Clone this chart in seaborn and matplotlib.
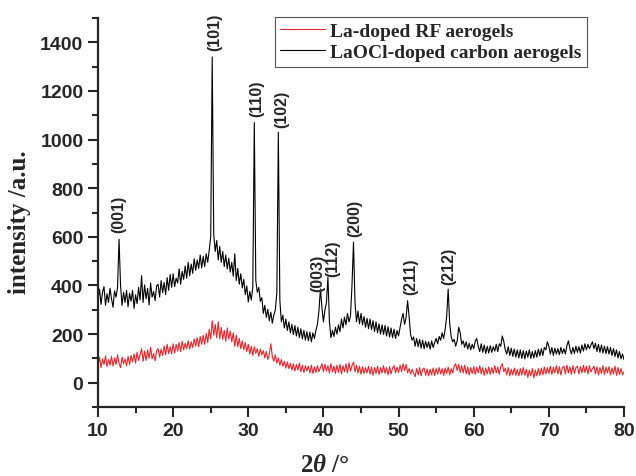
import numpy as np
import pandas as pd
import matplotlib
matplotlib.use("Agg")
import matplotlib.pyplot as plt
import seaborn as sns
from matplotlib.ticker import MultipleLocator

# ---------------- data ----------------
two_theta_start = 10.0
two_theta_step = 0.2

carbon_aerogel = [
    340, 385, 322, 372, 395, 318, 366, 330, 388, 345,   # 10.0
    310, 378, 352, 392, 590, 400, 318, 372, 330, 380,   # 12.0
    312, 368, 335, 380, 306, 362, 325, 392, 340, 440,   # 14.0
    330, 402, 345, 388, 320, 410, 352, 375, 338, 398,   # 16.0
    405, 352, 420, 370, 412, 362, 432, 380, 445, 392,   # 18.0
    448, 395, 430, 410, 468, 405, 458, 425, 480, 430,   # 20.0
    495, 440, 488, 450, 510, 462, 505, 470, 525, 472,   # 22.0
    520, 478, 530, 495, 545, 600, 1340, 610, 540, 585,  # 24.0
    505, 560, 495, 540, 478, 525, 468, 512, 455, 495,   # 26.0
    438, 530, 420, 470, 405, 448, 390, 425, 362, 398,   # 28.0
    332, 375, 340, 395, 1070, 420, 372, 392, 335, 350,  # 30.0
    285, 318, 268, 302, 255, 290, 245, 278, 300, 370,   # 32.0
    1030, 340, 250, 278, 225, 262, 215, 250, 205, 240,  # 34.0
    198, 235, 192, 228, 185, 222, 180, 215, 175, 210,   # 36.0
    172, 208, 168, 205, 182, 215, 240, 295, 385, 310,   # 38.0
    250, 300, 330, 434, 250, 185, 215, 190, 228, 200,   # 40.0
    238, 210, 262, 225, 270, 238, 285, 250, 275, 400,   # 42.0
    578, 330, 250, 295, 242, 285, 238, 272, 228, 265,   # 44.0
    222, 262, 218, 255, 210, 250, 205, 242, 200, 238,   # 46.0
    198, 235, 192, 230, 188, 225, 185, 220, 182, 215,   # 48.0
    192, 228, 262, 285, 240, 268, 337, 272, 198, 175,   # 50.0
    188, 150, 182, 148, 178, 142, 175, 140, 170, 145,   # 52.0
    168, 138, 172, 145, 165, 182, 160, 190, 175, 205,   # 54.0
    182, 220, 272, 385, 245, 190, 168, 178, 150, 172,   # 56.0
    228, 205, 158, 172, 145, 168, 138, 162, 135, 158,   # 58.0
    140, 170, 182, 150, 128, 160, 125, 155, 120, 150,   # 60.0
    122, 152, 125, 148, 130, 158, 128, 160, 150, 192,   # 62.0
    170, 135, 118, 148, 112, 142, 108, 138, 105, 135,   # 64.0
    102, 135, 100, 132, 98, 130, 105, 135, 100, 128,    # 66.0
    102, 132, 105, 138, 110, 140, 112, 145, 135, 168,   # 68.0
    150, 118, 145, 112, 142, 118, 140, 115, 145, 120,   # 70.0
    140, 118, 152, 172, 140, 118, 145, 120, 150, 125,   # 72.0
    148, 122, 155, 130, 160, 135, 158, 140, 155, 168,   # 74.0
    140, 162, 128, 158, 125, 155, 122, 150, 120, 148,   # 76.0
    118, 145, 112, 140, 108, 135, 102, 128, 98, 118,    # 78.0
    95,                                                 # 80.0
]

rf_aerogel = [
    70, 105, 62, 98, 75, 110, 66, 95, 72, 108,          # 10.0
    68, 102, 75, 115, 80, 62, 105, 78, 98, 70,          # 12.0
    108, 75, 112, 85, 118, 80, 125, 92, 115, 140,       # 14.0
    88, 130, 92, 135, 100, 145, 98, 120, 90, 132,       # 16.0
    140, 105, 138, 112, 150, 115, 158, 120, 148, 118,   # 18.0
    160, 122, 158, 130, 165, 128, 170, 135, 162, 140,   # 20.0
    172, 138, 168, 145, 180, 150, 185, 148, 190, 158,   # 22.0
    195, 158, 202, 165, 220, 180, 255, 195, 240, 185,   # 24.0
    250, 180, 228, 178, 215, 170, 225, 180, 212, 168,   # 26.0
    205, 150, 195, 148, 182, 140, 172, 135, 165, 128,   # 28.0
    158, 118, 150, 112, 148, 120, 140, 108, 138, 115,   # 30.0
    132, 102, 128, 95, 118, 160, 108, 88, 115, 80,      # 32.0
    102, 72, 95, 68, 88, 60, 85, 58, 80, 52,            # 34.0
    78, 48, 75, 52, 80, 45, 72, 42, 70, 48,             # 36.0
    68, 40, 72, 38, 65, 42, 70, 45, 62, 78,             # 38.0
    45, 75, 48, 70, 40, 78, 44, 68, 38, 72,             # 40.0
    42, 75, 36, 70, 45, 78, 40, 82, 48, 70,             # 42.0
    85, 45, 72, 40, 68, 35, 66, 38, 62, 40,             # 44.0
    68, 35, 64, 30, 62, 38, 68, 34, 62, 40,             # 46.0
    70, 38, 62, 32, 66, 36, 60, 70, 40, 64,             # 48.0
    42, 72, 45, 78, 50, 75, 40, 58, 36, 55,             # 50.0
    40, 25, 58, 32, 62, 28, 55, 60, 30, 56,             # 52.0
    28, 55, 32, 60, 30, 58, 35, 62, 36, 58,             # 54.0
    30, 60, 38, 64, 32, 58, 40, 68, 78, 50,             # 56.0
    75, 42, 70, 40, 72, 36, 65, 32, 62, 38,             # 58.0
    66, 34, 64, 40, 70, 36, 62, 30, 60, 36,             # 60.0
    65, 34, 62, 38, 70, 40, 64, 35, 66, 78,             # 62.0
    45, 60, 32, 62, 28, 56, 32, 60, 30, 55,             # 64.0
    28, 58, 32, 62, 30, 55, 22, 52, 28, 58,             # 66.0
    20, 52, 28, 58, 30, 60, 32, 64, 36, 62,             # 68.0
    38, 68, 34, 64, 40, 70, 36, 66, 32, 62,             # 70.0
    68, 36, 72, 40, 65, 34, 70, 38, 62, 68,             # 72.0
    36, 66, 40, 72, 42, 68, 36, 70, 44, 58,             # 74.0
    68, 36, 65, 32, 62, 38, 70, 34, 64, 40,             # 76.0
    66, 32, 60, 36, 68, 30, 62, 34, 58, 32,             # 78.0
    45,                                                 # 80.0
]

series_names = ["La-doped RF aerogels", "LaOCl-doped carbon aerogels"]

peak_labels = ["(001)", "(101)", "(110)", "(102)", "(003)", "(112)",
               "(200)", "(211)", "(212)"]
peak_label_x = [12.7, 25.6, 31.1, 34.4, 39.3, 41.3, 44.2, 51.6, 56.7]
peak_label_y = [618, 1370, 1096, 1050, 377, 438, 603, 364, 405]

x_ticks = [10, 20, 30, 40, 50, 60, 70, 80]
y_ticks = [0, 200, 400, 600, 800, 1000, 1200, 1400]

# ---------------- build table ----------------
n = len(carbon_aerogel)
two_theta = two_theta_start + two_theta_step * np.arange(n)
df = pd.concat([
    pd.DataFrame({"two_theta": two_theta, "intensity": rf_aerogel,
                  "sample": series_names[0]}),
    pd.DataFrame({"two_theta": two_theta, "intensity": carbon_aerogel,
                  "sample": series_names[1]}),
], ignore_index=True)

# ---------------- style ----------------
sns.set_style("ticks")
plt.rcParams["font.family"] = ["Liberation Sans", "DejaVu Sans"]
plt.rcParams["mathtext.fontset"] = "custom"
plt.rcParams["mathtext.rm"] = "Liberation Serif:bold"
plt.rcParams["mathtext.it"] = "Liberation Serif:italic:bold"
plt.rcParams["mathtext.bf"] = "Liberation Serif:bold"

fig = plt.figure(figsize=(6.36, 4.77), dpi=100)
ax = fig.add_axes([98 / 636, 69 / 477, 526 / 636, 389 / 477])

sns.lineplot(data=df, x="two_theta", y="intensity", hue="sample",
             hue_order=series_names, palette=["#e8242a", "#000000"],
             linewidth=0.8, ax=ax, estimator=None, sort=False)

ax.set_xlim(10, 80)
ax.set_ylim(-100, 1500)
ax.set_xticks(x_ticks)
ax.set_yticks(y_ticks)
ax.xaxis.set_minor_locator(MultipleLocator(5))
ax.yaxis.set_minor_locator(MultipleLocator(100))
ax.tick_params(which="major", direction="out", length=7, width=1.5,
               labelsize=14)
ax.tick_params(which="minor", direction="out", length=4, width=1.5)
for lab in ax.get_xticklabels() + ax.get_yticklabels():
    lab.set_fontweight("bold")

for side in ["top", "right"]:
    ax.spines[side].set_visible(False)
for side in ["left", "bottom"]:
    ax.spines[side].set_linewidth(1.6)

ax.set_ylabel("intensity /a.u.", fontsize=18, fontweight="bold",
              family="Liberation Serif")
ax.yaxis.set_label_coords(-0.127, 0.478)
ax.set_xlabel(r"2$\theta$ /°", fontsize=18, fontweight="bold",
              family="Liberation Serif")
ax.xaxis.set_label_coords(0.432, -0.118)

for lbl, px, py in zip(peak_labels, peak_label_x, peak_label_y):
    ax.text(px, py, lbl, rotation=90, ha="center", va="bottom",
            fontsize=11.5, fontweight="bold", family="Liberation Sans")

handles, labels = ax.get_legend_handles_labels()
leg = ax.legend(handles, labels, loc="upper right",
                bbox_to_anchor=(0.930, 1.003), borderaxespad=0,
                frameon=True, fancybox=False, framealpha=1,
                edgecolor="#555555", handlelength=2.3, handletextpad=0.25,
                labelspacing=0.15, borderpad=0.3,
                prop={"family": "Liberation Serif", "weight": "bold",
                      "size": 14})
leg.get_frame().set_linewidth(0.8)

fig.savefig("out.png", dpi=100)
